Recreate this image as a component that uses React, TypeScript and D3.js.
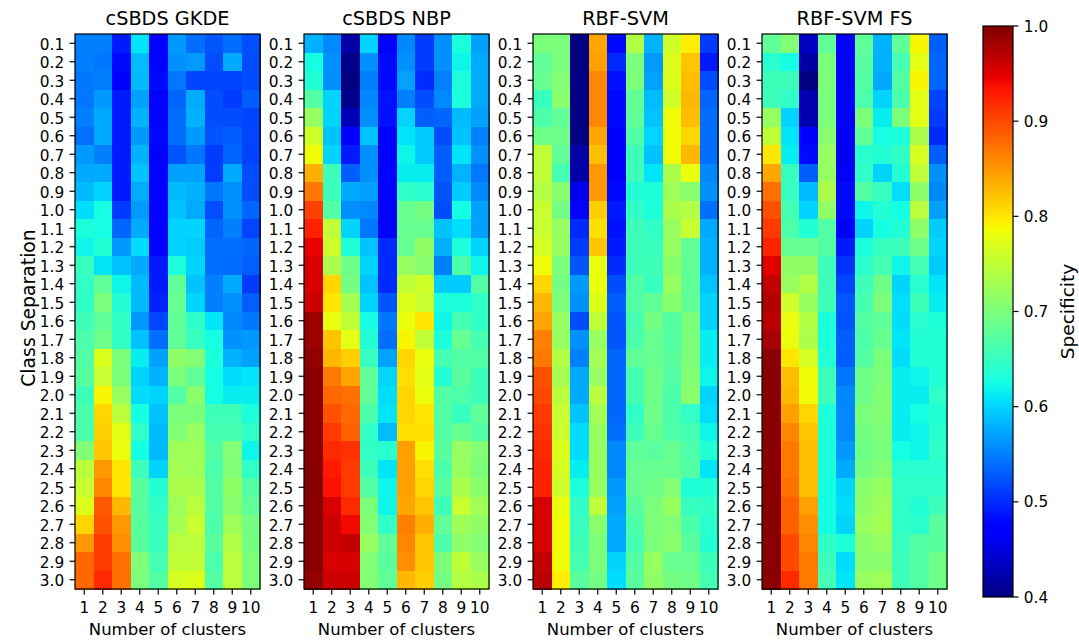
import React from "react";
import * as d3 from "d3";

const clusters = ["1", "2", "3", "4", "5", "6", "7", "8", "9", "10"];
const separations = [
  "0.1", "0.2", "0.3", "0.4", "0.5", "0.6", "0.7", "0.8", "0.9", "1.0",
  "1.1", "1.2", "1.3", "1.4", "1.5", "1.6", "1.7", "1.8", "1.9", "2.0",
  "2.1", "2.2", "2.3", "2.4", "2.5", "2.6", "2.7", "2.8", "2.9", "3.0",
];
const panelTitles = ["cSBDS GKDE", "cSBDS NBP", "RBF-SVM", "RBF-SVM FS"];
const colorTicks = [0.4, 0.5, 0.6, 0.7, 0.8, 0.9, 1.0];

const gkde = [
  [0.55, 0.55, 0.49, 0.61, 0.47, 0.565, 0.54, 0.525, 0.54, 0.52],
  [0.55, 0.545, 0.48, 0.585, 0.47, 0.56, 0.565, 0.52, 0.575, 0.52],
  [0.545, 0.55, 0.47, 0.585, 0.48, 0.545, 0.515, 0.515, 0.515, 0.52],
  [0.545, 0.565, 0.49, 0.57, 0.47, 0.535, 0.575, 0.52, 0.51, 0.53],
  [0.55, 0.575, 0.49, 0.58, 0.47, 0.54, 0.58, 0.52, 0.52, 0.515],
  [0.54, 0.575, 0.49, 0.565, 0.48, 0.54, 0.565, 0.525, 0.53, 0.515],
  [0.565, 0.55, 0.49, 0.58, 0.475, 0.525, 0.545, 0.51, 0.535, 0.515],
  [0.575, 0.575, 0.49, 0.59, 0.475, 0.57, 0.57, 0.51, 0.575, 0.52],
  [0.585, 0.6, 0.49, 0.575, 0.475, 0.585, 0.58, 0.545, 0.56, 0.52],
  [0.605, 0.625, 0.51, 0.565, 0.475, 0.59, 0.575, 0.52, 0.56, 0.535],
  [0.63, 0.625, 0.535, 0.575, 0.47, 0.6, 0.6, 0.535, 0.55, 0.515],
  [0.62, 0.635, 0.565, 0.605, 0.47, 0.6, 0.595, 0.54, 0.54, 0.535],
  [0.65, 0.61, 0.59, 0.575, 0.49, 0.63, 0.6, 0.54, 0.54, 0.53],
  [0.645, 0.68, 0.62, 0.585, 0.49, 0.68, 0.59, 0.55, 0.575, 0.51],
  [0.645, 0.7, 0.635, 0.585, 0.495, 0.685, 0.6, 0.55, 0.56, 0.53],
  [0.655, 0.68, 0.645, 0.565, 0.515, 0.68, 0.645, 0.61, 0.555, 0.545],
  [0.665, 0.69, 0.645, 0.59, 0.54, 0.68, 0.65, 0.625, 0.56, 0.565],
  [0.67, 0.77, 0.7, 0.615, 0.57, 0.715, 0.705, 0.63, 0.58, 0.57],
  [0.675, 0.755, 0.7, 0.6, 0.58, 0.7, 0.68, 0.625, 0.605, 0.61],
  [0.655, 0.79, 0.72, 0.605, 0.6, 0.67, 0.71, 0.625, 0.615, 0.615],
  [0.665, 0.81, 0.745, 0.625, 0.59, 0.7, 0.7, 0.655, 0.655, 0.63],
  [0.665, 0.815, 0.775, 0.645, 0.585, 0.705, 0.72, 0.66, 0.66, 0.645],
  [0.705, 0.82, 0.78, 0.625, 0.585, 0.725, 0.725, 0.67, 0.705, 0.62],
  [0.745, 0.85, 0.8, 0.655, 0.6, 0.73, 0.725, 0.665, 0.705, 0.645],
  [0.755, 0.86, 0.8, 0.675, 0.635, 0.735, 0.735, 0.67, 0.715, 0.67],
  [0.77, 0.89, 0.83, 0.675, 0.645, 0.725, 0.745, 0.67, 0.71, 0.68],
  [0.81, 0.895, 0.85, 0.675, 0.65, 0.73, 0.755, 0.665, 0.725, 0.695],
  [0.85, 0.91, 0.855, 0.675, 0.65, 0.745, 0.745, 0.675, 0.74, 0.695],
  [0.88, 0.91, 0.875, 0.705, 0.66, 0.75, 0.75, 0.665, 0.745, 0.7],
  [0.88, 0.92, 0.875, 0.7, 0.67, 0.765, 0.77, 0.67, 0.745, 0.7],
];

const nbp = [
  [0.58, 0.555, 0.42, 0.6, 0.47, 0.555, 0.51, 0.56, 0.63, 0.57],
  [0.625, 0.56, 0.405, 0.56, 0.48, 0.56, 0.51, 0.56, 0.62, 0.575],
  [0.635, 0.56, 0.4, 0.55, 0.48, 0.57, 0.5, 0.55, 0.63, 0.575],
  [0.67, 0.6, 0.405, 0.555, 0.485, 0.55, 0.52, 0.555, 0.63, 0.575],
  [0.72, 0.6, 0.43, 0.56, 0.485, 0.6, 0.53, 0.535, 0.585, 0.57],
  [0.76, 0.59, 0.47, 0.59, 0.47, 0.61, 0.595, 0.52, 0.59, 0.55],
  [0.785, 0.6, 0.49, 0.56, 0.47, 0.62, 0.595, 0.53, 0.61, 0.56],
  [0.835, 0.655, 0.53, 0.56, 0.47, 0.615, 0.615, 0.53, 0.58, 0.545],
  [0.87, 0.655, 0.575, 0.57, 0.475, 0.645, 0.64, 0.525, 0.595, 0.555],
  [0.905, 0.67, 0.56, 0.555, 0.475, 0.685, 0.695, 0.52, 0.625, 0.57],
  [0.925, 0.75, 0.6, 0.545, 0.47, 0.685, 0.685, 0.59, 0.605, 0.57],
  [0.945, 0.76, 0.635, 0.59, 0.5, 0.685, 0.715, 0.58, 0.63, 0.6],
  [0.955, 0.735, 0.69, 0.6, 0.5, 0.72, 0.71, 0.55, 0.665, 0.62],
  [0.955, 0.81, 0.695, 0.59, 0.5, 0.75, 0.76, 0.595, 0.595, 0.67],
  [0.96, 0.8, 0.73, 0.6, 0.525, 0.77, 0.755, 0.63, 0.63, 0.645],
  [0.985, 0.78, 0.75, 0.625, 0.545, 0.78, 0.8, 0.62, 0.66, 0.645],
  [0.985, 0.82, 0.775, 0.635, 0.54, 0.79, 0.75, 0.63, 0.685, 0.66],
  [0.99, 0.83, 0.815, 0.65, 0.57, 0.81, 0.78, 0.66, 0.67, 0.67],
  [0.995, 0.87, 0.84, 0.68, 0.6, 0.805, 0.775, 0.635, 0.675, 0.655],
  [0.995, 0.88, 0.875, 0.68, 0.605, 0.81, 0.78, 0.67, 0.665, 0.655],
  [0.995, 0.895, 0.88, 0.665, 0.61, 0.81, 0.8, 0.67, 0.65, 0.68],
  [0.995, 0.91, 0.885, 0.645, 0.585, 0.805, 0.805, 0.67, 0.685, 0.67],
  [0.995, 0.92, 0.915, 0.645, 0.64, 0.845, 0.79, 0.675, 0.72, 0.705],
  [0.995, 0.93, 0.91, 0.655, 0.61, 0.845, 0.805, 0.665, 0.72, 0.7],
  [0.995, 0.935, 0.91, 0.67, 0.62, 0.845, 0.81, 0.675, 0.735, 0.71],
  [0.995, 0.955, 0.92, 0.7, 0.62, 0.84, 0.82, 0.655, 0.755, 0.725],
  [0.995, 0.96, 0.94, 0.705, 0.645, 0.865, 0.835, 0.68, 0.725, 0.715],
  [0.995, 0.96, 0.965, 0.72, 0.68, 0.86, 0.82, 0.665, 0.715, 0.705],
  [0.995, 0.955, 0.955, 0.705, 0.675, 0.855, 0.82, 0.7, 0.75, 0.72],
  [0.99, 0.96, 0.96, 0.705, 0.68, 0.83, 0.815, 0.695, 0.74, 0.735],
];

const svm = [
  [0.7, 0.7, 0.4, 0.84, 0.48, 0.74, 0.58, 0.76, 0.795, 0.51],
  [0.68, 0.7, 0.4, 0.845, 0.5, 0.7, 0.565, 0.77, 0.82, 0.49],
  [0.685, 0.705, 0.4, 0.86, 0.485, 0.7, 0.57, 0.77, 0.825, 0.52],
  [0.65, 0.71, 0.4, 0.86, 0.48, 0.68, 0.585, 0.76, 0.83, 0.535],
  [0.665, 0.68, 0.4, 0.86, 0.48, 0.68, 0.59, 0.785, 0.825, 0.54],
  [0.69, 0.69, 0.4, 0.84, 0.475, 0.67, 0.6, 0.785, 0.81, 0.54],
  [0.75, 0.68, 0.42, 0.825, 0.475, 0.655, 0.59, 0.785, 0.83, 0.54],
  [0.75, 0.66, 0.42, 0.85, 0.47, 0.655, 0.61, 0.735, 0.78, 0.555],
  [0.74, 0.71, 0.455, 0.85, 0.48, 0.635, 0.63, 0.725, 0.71, 0.56],
  [0.755, 0.695, 0.47, 0.815, 0.49, 0.645, 0.63, 0.735, 0.74, 0.54],
  [0.755, 0.72, 0.5, 0.805, 0.485, 0.655, 0.645, 0.72, 0.755, 0.575],
  [0.765, 0.72, 0.51, 0.82, 0.49, 0.655, 0.65, 0.72, 0.68, 0.58],
  [0.785, 0.7, 0.525, 0.78, 0.5, 0.655, 0.655, 0.71, 0.68, 0.58],
  [0.81, 0.695, 0.565, 0.78, 0.52, 0.67, 0.65, 0.72, 0.68, 0.59],
  [0.83, 0.7, 0.56, 0.77, 0.53, 0.67, 0.68, 0.71, 0.68, 0.6],
  [0.84, 0.72, 0.52, 0.75, 0.525, 0.66, 0.695, 0.67, 0.7, 0.6],
  [0.865, 0.72, 0.56, 0.72, 0.525, 0.665, 0.685, 0.67, 0.7, 0.615],
  [0.87, 0.74, 0.55, 0.73, 0.535, 0.68, 0.685, 0.675, 0.7, 0.615],
  [0.895, 0.73, 0.575, 0.72, 0.535, 0.66, 0.69, 0.67, 0.705, 0.62],
  [0.9, 0.745, 0.575, 0.745, 0.535, 0.66, 0.69, 0.665, 0.71, 0.6],
  [0.91, 0.755, 0.59, 0.73, 0.535, 0.645, 0.69, 0.665, 0.645, 0.605],
  [0.915, 0.755, 0.605, 0.72, 0.54, 0.655, 0.685, 0.665, 0.66, 0.62],
  [0.92, 0.77, 0.605, 0.72, 0.555, 0.68, 0.675, 0.685, 0.665, 0.635],
  [0.925, 0.765, 0.615, 0.72, 0.555, 0.685, 0.685, 0.685, 0.67, 0.61],
  [0.925, 0.76, 0.63, 0.72, 0.565, 0.685, 0.69, 0.705, 0.63, 0.635],
  [0.955, 0.78, 0.645, 0.75, 0.57, 0.675, 0.7, 0.72, 0.65, 0.645],
  [0.955, 0.785, 0.65, 0.71, 0.575, 0.665, 0.7, 0.705, 0.665, 0.64],
  [0.955, 0.785, 0.655, 0.7, 0.575, 0.66, 0.7, 0.71, 0.675, 0.635],
  [0.965, 0.785, 0.66, 0.7, 0.6, 0.67, 0.72, 0.685, 0.685, 0.655],
  [0.97, 0.795, 0.675, 0.695, 0.605, 0.675, 0.715, 0.695, 0.69, 0.66],
];

const svmFs = [
  [0.68, 0.705, 0.435, 0.68, 0.475, 0.68, 0.58, 0.68, 0.79, 0.53],
  [0.64, 0.625, 0.42, 0.7, 0.475, 0.675, 0.58, 0.66, 0.775, 0.535],
  [0.655, 0.655, 0.4, 0.7, 0.475, 0.67, 0.575, 0.67, 0.79, 0.535],
  [0.655, 0.645, 0.425, 0.7, 0.47, 0.665, 0.6, 0.665, 0.775, 0.515],
  [0.72, 0.6, 0.425, 0.7, 0.47, 0.7, 0.615, 0.7, 0.775, 0.51],
  [0.75, 0.61, 0.47, 0.71, 0.47, 0.68, 0.625, 0.63, 0.735, 0.5],
  [0.8, 0.615, 0.48, 0.72, 0.46, 0.64, 0.635, 0.645, 0.765, 0.53],
  [0.84, 0.65, 0.53, 0.72, 0.475, 0.645, 0.6, 0.635, 0.75, 0.56],
  [0.875, 0.65, 0.585, 0.735, 0.48, 0.67, 0.65, 0.605, 0.715, 0.555],
  [0.895, 0.66, 0.6, 0.715, 0.48, 0.62, 0.635, 0.625, 0.745, 0.57],
  [0.91, 0.665, 0.635, 0.67, 0.475, 0.6, 0.625, 0.635, 0.715, 0.595],
  [0.925, 0.685, 0.685, 0.67, 0.49, 0.63, 0.65, 0.655, 0.69, 0.6],
  [0.95, 0.715, 0.715, 0.655, 0.505, 0.64, 0.66, 0.62, 0.66, 0.595],
  [0.965, 0.72, 0.74, 0.655, 0.515, 0.655, 0.69, 0.6, 0.64, 0.61],
  [0.975, 0.76, 0.72, 0.655, 0.525, 0.66, 0.7, 0.605, 0.655, 0.615],
  [0.97, 0.78, 0.74, 0.63, 0.525, 0.67, 0.68, 0.605, 0.64, 0.63],
  [0.98, 0.78, 0.735, 0.63, 0.53, 0.665, 0.685, 0.61, 0.635, 0.635],
  [0.995, 0.8, 0.765, 0.635, 0.53, 0.67, 0.7, 0.605, 0.635, 0.635],
  [0.995, 0.825, 0.785, 0.655, 0.545, 0.69, 0.7, 0.615, 0.62, 0.635],
  [0.995, 0.83, 0.785, 0.655, 0.555, 0.69, 0.705, 0.615, 0.615, 0.645],
  [0.995, 0.845, 0.81, 0.63, 0.555, 0.7, 0.705, 0.615, 0.625, 0.635],
  [0.995, 0.86, 0.82, 0.63, 0.555, 0.695, 0.7, 0.615, 0.62, 0.64],
  [0.995, 0.87, 0.825, 0.63, 0.565, 0.69, 0.7, 0.625, 0.62, 0.645],
  [0.995, 0.87, 0.825, 0.63, 0.575, 0.695, 0.705, 0.64, 0.64, 0.64],
  [0.995, 0.875, 0.825, 0.625, 0.6, 0.71, 0.72, 0.645, 0.645, 0.645],
  [0.995, 0.885, 0.845, 0.625, 0.605, 0.715, 0.725, 0.645, 0.635, 0.655],
  [0.995, 0.885, 0.855, 0.625, 0.6, 0.72, 0.73, 0.645, 0.64, 0.675],
  [0.995, 0.9, 0.86, 0.645, 0.63, 0.71, 0.72, 0.65, 0.67, 0.675],
  [0.995, 0.9, 0.87, 0.655, 0.605, 0.71, 0.71, 0.655, 0.67, 0.69],
  [0.995, 0.92, 0.87, 0.66, 0.61, 0.72, 0.725, 0.655, 0.67, 0.69],
];

const panelData = [gkde, nbp, svm, svmFs];

// matplotlib "jet" segment data
const jetR: [number, number][] = [[0, 0], [0.35, 0], [0.66, 1], [0.89, 1], [1, 0.5]];
const jetG: [number, number][] = [[0, 0], [0.125, 0], [0.375, 1], [0.64, 1], [0.91, 0], [1, 0]];
const jetB: [number, number][] = [[0, 0.5], [0.11, 1], [0.34, 1], [0.65, 0], [1, 0]];
function seg(pts: [number, number][], t: number) {
  for (let i = 1; i < pts.length; i++) {
    if (t <= pts[i][0]) {
      const [x0, y0] = pts[i - 1];
      const [x1, y1] = pts[i];
      return y0 + ((t - x0) / (x1 - x0)) * (y1 - y0);
    }
  }
  return pts[pts.length - 1][1];
}
function jet(t: number) {
  const u = Math.max(0, Math.min(1, t));
  const r = Math.round(seg(jetR, u) * 255);
  const g = Math.round(seg(jetG, u) * 255);
  const b = Math.round(seg(jetB, u) * 255);
  return `rgb(${r},${g},${b})`;
}

const W = 1079;
const H = 644;
const TOP = 34;
const BOTTOM = 589;
const PANEL_W = 185;
const PANEL_LEFTS = [75, 304, 533, 762];
const FONT = "DejaVu Sans, sans-serif";
const TICK_FS = 15.3;
const TICK_LEN = 5.4;
const PAD = 5.4;

const CB_X = 983;
const CB_W = 30;
const CB_TOP = 26;
const CB_BOTTOM = 597;

export default function App() {
  const color = d3.scaleSequential(jet).domain([0.4, 1.0]);
  const y = d3.scaleBand<string>().domain(separations).range([TOP, BOTTOM]);
  const cbScale = d3.scaleLinear().domain([0.4, 1.0]).range([CB_BOTTOM, CB_TOP]);
  const stops = d3.range(0, 101).map((i) => i / 100);

  return (
    <svg
      width={W}
      height={H}
      style={{ position: "absolute", left: 0, top: 0, background: "#fff" }}
      fontFamily={FONT}
    >
      <defs>
        <linearGradient id="jetgrad" x1="0" y1="1" x2="0" y2="0">
          {stops.map((s) => (
            <stop key={s} offset={s} stopColor={jet(s)} />
          ))}
        </linearGradient>
      </defs>
      {panelData.map((data, p) => {
        const left = PANEL_LEFTS[p];
        const x = d3.scaleBand<string>().domain(clusters).range([left, left + PANEL_W]);
        const cx = left + PANEL_W / 2;
        return (
          <g key={p}>
            <g shapeRendering="crispEdges">
              {data.map((row, ri) =>
                row.map((v, ci) => (
                  <rect
                    key={`${ri}-${ci}`}
                    x={x(clusters[ci])}
                    y={y(separations[ri])}
                    width={x.bandwidth() + 0.6}
                    height={y.bandwidth() + 0.6}
                    fill={color(v)}
                  />
                ))
              )}
            </g>
            <rect
              x={left}
              y={TOP}
              width={PANEL_W}
              height={BOTTOM - TOP}
              fill="none"
              stroke="#000"
              strokeWidth={1.2}
            />
            <text x={cx} y={25} textAnchor="middle" fontSize={19.3} fill="#000">
              {panelTitles[p]}
            </text>
            {separations.map((s) => {
              const yc = (y(s) as number) + y.bandwidth() / 2;
              return (
                <g key={s}>
                  <line x1={left - TICK_LEN} x2={left} y1={yc} y2={yc} stroke="#000" strokeWidth={1.2} />
                  <text
                    x={left - TICK_LEN - PAD}
                    y={yc}
                    dy="0.42em"
                    textAnchor="end"
                    fontSize={TICK_FS}
                    fill="#000"
                  >
                    {s}
                  </text>
                </g>
              );
            })}
            {clusters.map((c) => {
              const xc = (x(c) as number) + x.bandwidth() / 2;
              return (
                <g key={c}>
                  <line x1={xc} x2={xc} y1={BOTTOM} y2={BOTTOM + TICK_LEN} stroke="#000" strokeWidth={1.2} />
                  <text x={xc} y={613} textAnchor="middle" fontSize={TICK_FS} fill="#000">
                    {c}
                  </text>
                </g>
              );
            })}
            <text x={cx} y={635} textAnchor="middle" fontSize={16.5} fill="#000">
              Number of clusters
            </text>
          </g>
        );
      })}
      <text
        transform={`translate(35, 308) rotate(-90)`}
        textAnchor="middle"
        fontSize={18.8}
        fill="#000"
      >
        Class Separation
      </text>
      <rect x={CB_X} y={CB_TOP} width={CB_W} height={CB_BOTTOM - CB_TOP} fill="url(#jetgrad)" />
      <rect
        x={CB_X}
        y={CB_TOP}
        width={CB_W}
        height={CB_BOTTOM - CB_TOP}
        fill="none"
        stroke="#000"
        strokeWidth={1.2}
      />
      {colorTicks.map((t) => {
        const yy = cbScale(t);
        return (
          <g key={t}>
            <line x1={CB_X + CB_W} x2={CB_X + CB_W + TICK_LEN} y1={yy} y2={yy} stroke="#000" strokeWidth={1.2} />
            <text x={CB_X + CB_W + TICK_LEN + PAD} y={yy} dy="0.36em" fontSize={TICK_FS} fill="#000">
              {t.toFixed(1)}
            </text>
          </g>
        );
      })}
      <text
        transform={`translate(1074, ${(CB_TOP + CB_BOTTOM) / 2}) rotate(-90)`}
        textAnchor="middle"
        fontSize={18.5}
        fill="#000"
      >
        Specificity
      </text>
    </svg>
  );
}
